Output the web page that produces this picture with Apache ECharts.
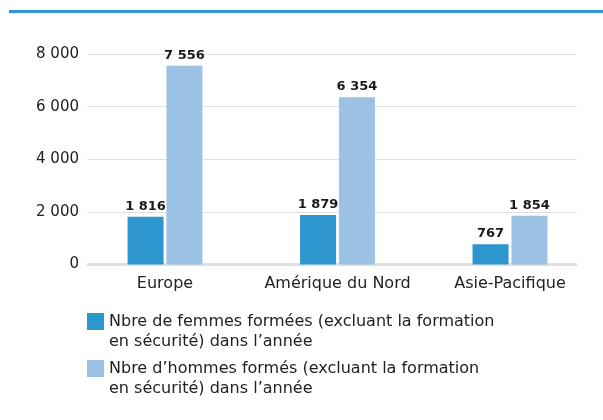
<!DOCTYPE html>
<html><head><meta charset="utf-8">
<script src="https://cdn.jsdelivr.net/npm/echarts@6/dist/echarts.min.js"></script>
<style>html,body{margin:0;padding:0;background:#fff}#c{width:603px;height:420px}</style>
</head><body><div id="c"></div>
<script>
var categories = ['Europe', 'Amérique du Nord', 'Asie-Pacifique'];
var femmes = [1816, 1879, 767];
var hommes = [7556, 6354, 1854];
var yTicks = [0, 2000, 4000, 6000, 8000];
var seriesNames = [
  'Nbre de femmes formées (excluant la formation\nen sécurité) dans l\u2019année',
  'Nbre d\u2019hommes formés (excluant la formation\nen sécurité) dans l\u2019année'
];

function fmt(v){ return String(v).replace(/\B(?=(\d{3})+(?!\d))/g, ' '); }
var FONT = 'DejaVu Sans';
var chart = echarts.init(document.getElementById('c'), null, {renderer:'canvas'});
var yMin = yTicks[0], yMax = yTicks[yTicks.length-1], yInt = yTicks[1]-yTicks[0];
// square icon aligned with the first text line (box 17x37, square in top 17px)
var ICON = 'path://M0,0L17,0L17,17L0,17Z M0,37L0.01,37';
function legendCfg(i, top){
  return {data:[seriesNames[i]], orient:'vertical', left:87, top:top, padding:0, itemWidth:17, itemHeight:37, itemGap:0,
     icon:ICON, textStyle:{color:'#222', fontSize:16, fontFamily:FONT, lineHeight:20}, selectedMode:false};
}
chart.setOption({
  animation: false,
  backgroundColor: '#fff',
  textStyle: {fontFamily: FONT},
  graphic: [{type:'rect', shape:{x:9, y:10, width:594, height:3}, style:{fill:'#2f97d0'}, silent:true}],
  grid: [
    {left: 87, right: 26, top: 54, bottom: 420-264.5},
    {left: 78.75, right: 6.75, top: 54, bottom: 420-264.5}
  ],
  xAxis: [
    {gridIndex:0, type:'value', show:false, min:0, max:1},
    {gridIndex:1, type:'category', data: categories,
     axisLine:{show:false}, axisTick:{show:false},
     axisLabel:{color:'#222', fontSize:16, fontFamily:FONT, margin:11, interval:0}}
  ],
  yAxis: [
    {gridIndex:0, type:'value', min:yMin, max:yMax, interval:yInt,
     axisLine:{show:false}, axisTick:{show:false},
     splitLine:{lineStyle:{color:'#e0e0e0', width:1}},
     axisLabel:{color:'#222', fontSize:15, fontFamily:FONT, margin:8, formatter: fmt}},
    {gridIndex:1, type:'value', min:yMin, max:yMax, interval:yInt, show:false, splitLine:{show:false}}
  ],
  legend: [legendCfg(0, 311.5), legendCfg(1, 358.5)],
  series: [
    {name: seriesNames[0], type:'bar', xAxisIndex:1, yAxisIndex:1, data: femmes, barWidth:36, barGap:'8%',
     itemStyle:{color:'#2e96cf'},
     label:{show:true, position:'top', distance:4, color:'#1a1a1a', fontWeight:'bold', fontSize:13, fontFamily:FONT,
       formatter: function(p){return fmt(p.value);}}},
    {name: seriesNames[1], type:'bar', xAxisIndex:1, yAxisIndex:1, data: hommes, barWidth:36, barGap:'8%',
     itemStyle:{color:'#9bc2e2'},
     label:{show:true, position:'top', distance:4, color:'#1a1a1a', fontWeight:'bold', fontSize:13, fontFamily:FONT,
       formatter: function(p){return fmt(p.value);}}},
    {type:'line', xAxisIndex:0, yAxisIndex:0, data:[[0,0],[1,0]], symbol:'none', silent:true,
     lineStyle:{color:'#e0e0e0', width:3}, z:1}
  ]
});
</script></body></html>
